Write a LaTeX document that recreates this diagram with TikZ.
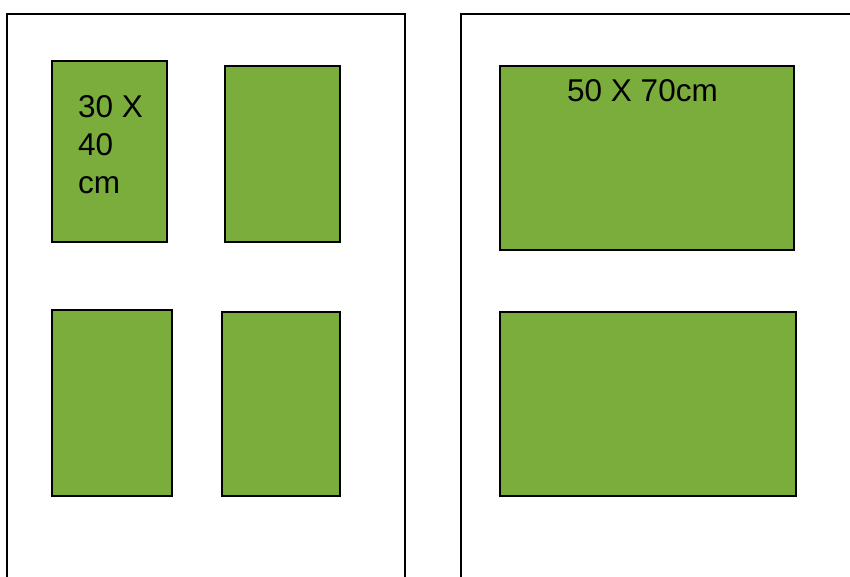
\documentclass[tikz,border=0pt]{standalone}
\usepackage{fontspec}
\setmainfont{Liberation Sans}
\definecolor{boxgreen}{RGB}{122,173,60}
\begin{document}
\begin{tikzpicture}[x=1pt,y=-1pt,
  panel/.style={draw=black,line width=2pt},
  greenbox/.style={draw=black,fill=boxgreen,line width=2pt,inner sep=0pt,outer sep=0pt,anchor=north west},
  lbl/.style={inner sep=0pt,outer sep=0pt,font=\fontsize{31.5}{38}\selectfont,text=black}]
\useasboundingbox (0,0) rectangle (850,577);
\begin{scope}
\clip (0,0) rectangle (850,577);
% panels (open at the bottom)
\coordinate (pl1) at (7,590);
\coordinate (pl2) at (7,14);
\coordinate (pl3) at (404.5,14);
\coordinate (pl4) at (404.5,590);
\draw[panel] (pl1) -- (pl2) -- (pl3) -- (pl4);
\coordinate (pr1) at (461,590);
\coordinate (pr2) at (461,14);
\coordinate (pr3) at (860,14);
\draw[panel] (pr1) -- (pr2) -- (pr3);
\end{scope}
% left panel frames
\node[greenbox,minimum width=115pt,minimum height=181pt] (a) at (52,61) {};
\node[greenbox,minimum width=115pt,minimum height=176pt] (b) at (225,66) {};
\node[greenbox,minimum width=120pt,minimum height=186pt] (c) at (52,310) {};
\node[greenbox,minimum width=118pt,minimum height=184pt] (d) at (222,312) {};
% right panel frames
\node[greenbox,minimum width=294pt,minimum height=184pt] (e) at (500,66) {};
\node[greenbox,minimum width=296pt,minimum height=184pt] (f) at (500,312) {};
% labels
\node[lbl,align=left,anchor=north west] (ta) at (78,96) {30 X\\40\\cm};
\node[lbl,anchor=base] (te) at (642.5,101.5) {50 X 70cm};
\end{tikzpicture}
\end{document}
